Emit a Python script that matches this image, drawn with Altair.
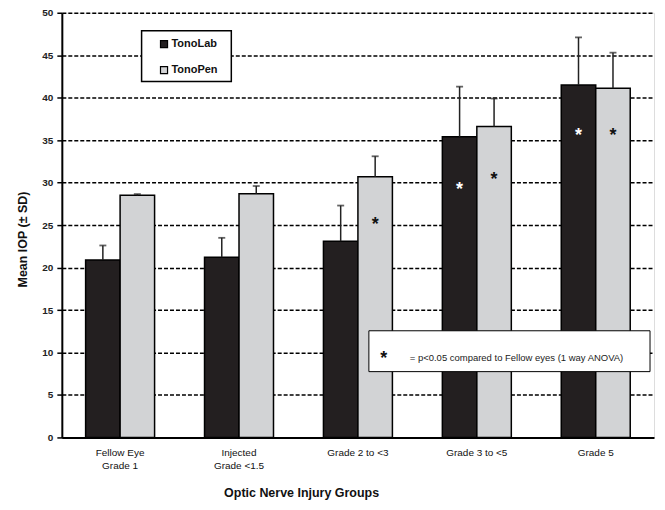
import altair as alt
import pandas as pd

groups = ["Fellow Eye\nGrade 1", "Injected\nGrade <1.5", "Grade 2 to <3", "Grade 3 to <5", "Grade 5"]
series = ["TonoLab", "TonoPen"]
tonolab_mean = [20.9, 21.2, 23.1, 35.4, 41.5]
tonolab_sd = [1.7, 2.3, 4.2, 5.9, 5.6]
tonopen_mean = [28.5, 28.7, 30.7, 36.6, 41.1]
tonopen_sd = [0.15, 0.9, 2.4, 3.3, 4.2]

star_group = ["Grade 2 to <3", "Grade 3 to <5", "Grade 3 to <5", "Grade 5", "Grade 5"]
star_series = ["TonoPen", "TonoLab", "TonoPen", "TonoLab", "TonoPen"]
star_y = [25.5, 29.6, 30.8, 36.0, 36.0]

note_star = "*"
note_text = "= p<0.05 compared to Fellow eyes (1 way ANOVA)"

rows = []
for g, m, s in zip(groups, tonolab_mean, tonolab_sd):
    rows.append({"group": g, "series": "TonoLab", "mean": m, "top": m + s})
for g, m, s in zip(groups, tonopen_mean, tonopen_sd):
    rows.append({"group": g, "series": "TonoPen", "mean": m, "top": m + s})
df = pd.DataFrame(rows)

stars = pd.DataFrame({
    "group": star_group,
    "series": star_series,
    "y": star_y,
    "ink": ["#111111" if s == "TonoPen" else "white" for s in star_series],
})

FONT = "Liberation Sans"

xenc = alt.X(
    "group:N", sort=groups,
    scale=alt.Scale(paddingInner=0.42),
    axis=alt.Axis(
        title="Optic Nerve Injury Groups", labelAngle=0, ticks=False,
        labelPadding=10, labelFontSize=10, labelColor="#111",
        labelExpr="split(datum.label, '\\n')", labelLineHeight=13,
        titleFontSize=12.5, titleFontWeight="bold", titleColor="#111",
        titleX=240, titleY=55, titleBaseline="middle", titleAnchor="start", titleAlign="center",
        domainColor="black", domainWidth=2,
    ),
)
xoff = alt.XOffset("series:N", sort=series, scale=alt.Scale(paddingInner=0, paddingOuter=0))
yscale = alt.Scale(domain=[0, 50], nice=False)

bars = alt.Chart(df).mark_bar(stroke="black", strokeWidth=1.5).encode(
    x=xenc,
    xOffset=xoff,
    y=alt.Y(
        "mean:Q", scale=yscale,
        axis=alt.Axis(
            title="Mean IOP (± SD)", values=list(range(0, 51, 5)),
            grid=True, gridColor="black", gridDash=[4, 2], gridWidth=1.5,
            tickColor="black", tickSize=5, tickWidth=1.5, labelPadding=4,
            labelFontSize=10, labelFontWeight="bold", labelColor="#222",
            titleFontSize=12.5, titleFontWeight="bold", titleColor="#111",
            titleX=-39, titleY=227, titleBaseline="middle", titleAnchor="start", titleAlign="center",
            domainColor="black", domainWidth=2,
        ),
    ),
    fill=alt.Fill(
        "series:N", sort=series,
        scale=alt.Scale(domain=series, range=["#231f20", "#d2d3d5"]),
        legend=alt.Legend(
            title=None, orient="none", legendX=97, legendY=26,
            padding=0,
            symbolType="square", symbolSize=50, symbolStrokeColor="black",
            symbolStrokeWidth=1.2, labelFont=FONT, labelFontSize=11,
            labelFontWeight="bold", labelColor="#111", rowPadding=13,
            labelOffset=2,
        ),
    ),
)

legend_box = alt.Chart(pd.DataFrame({"k": [0]})).mark_rect(
    fill="white", stroke="black", strokeWidth=1.5,
).encode(x=alt.value(80), x2=alt.value(170), y=alt.value(18), y2=alt.value(69))

err = alt.Chart(df).mark_rule(color="#222", strokeWidth=1.5).encode(
    x=alt.X("group:N", sort=groups), xOffset=xoff,
    y=alt.Y("mean:Q", scale=yscale), y2="top:Q",
)
caps = alt.Chart(df).mark_tick(color="#222", size=7, thickness=1.8).encode(
    x=alt.X("group:N", sort=groups), xOffset=xoff,
    y=alt.Y("top:Q", scale=yscale),
)
star_marks = alt.Chart(stars).mark_text(
    text="*", font=FONT, fontSize=18, fontWeight="bold", baseline="middle", dy=4,
).encode(
    x=alt.X("group:N", sort=groups), xOffset=alt.XOffset("series:N", sort=series),
    y=alt.Y("y:Q", scale=yscale),
    color=alt.Color("ink:N", scale=None),
)

note_df = pd.DataFrame({"star": [note_star], "text": [note_text]})
note_box = alt.Chart(note_df).mark_rect(fill="white", stroke="black", strokeWidth=1).encode(
    x=alt.value(308), x2=alt.value(590), y=alt.value(319), y2=alt.value(360),
)
note_star_mark = alt.Chart(note_df).mark_text(
    font=FONT, fontSize=18, fontWeight="bold", align="center", baseline="middle", color="#111",
).encode(x=alt.value(323), y=alt.value(347), text="star:N")
note_text_mark = alt.Chart(note_df).mark_text(
    font=FONT, fontSize=9.5, align="left", baseline="middle", color="#222",
).encode(x=alt.value(349), y=alt.value(346), text="text:N")

chart = alt.layer(bars, legend_box, err, caps, star_marks, note_box, note_star_mark, note_text_mark).properties(
    width=594, height=426,
    autosize=alt.AutoSizeParams(type="none"),
    padding={"left": 54, "top": 4, "right": 3, "bottom": 64},
    background="white",
).configure_view(
    stroke="black", strokeWidth=2,
).configure(
    font=FONT,
)

chart.save("out.html", embed_options={"renderer": "svg", "actions": False})
